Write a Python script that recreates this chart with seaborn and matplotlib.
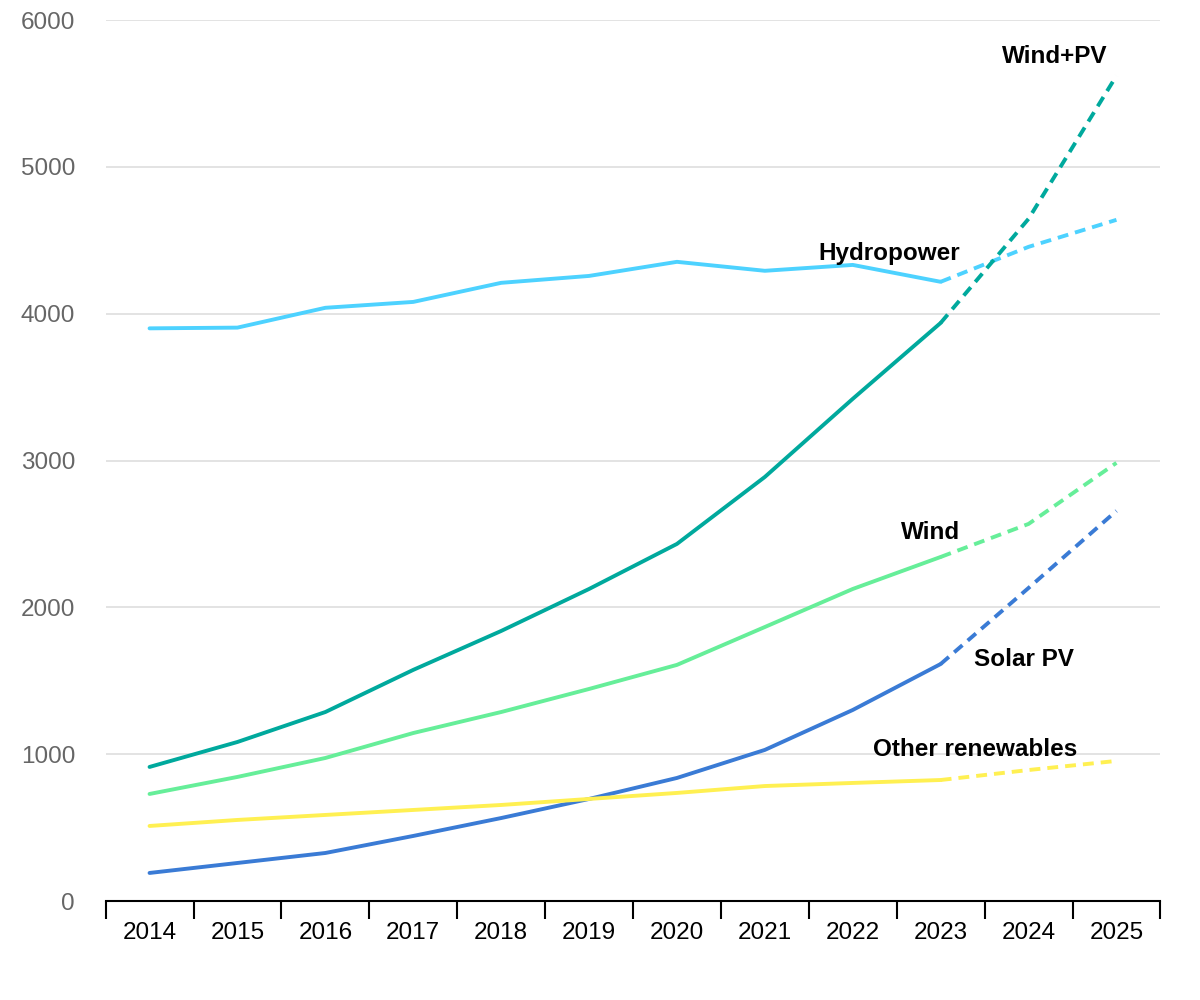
import pandas as pd
import matplotlib.pyplot as plt
import seaborn as sns

years = list(range(2014, 2026))
hydropower = [3900, 3905, 4040, 4080, 4210, 4257, 4353, 4292, 4332, 4217, 4455, 4639]
wind_pv = [913, 1083, 1287, 1574, 1839, 2125, 2432, 2888, 3420, 3937, 4646, 5620]
wind = [729, 845, 974, 1144, 1287, 1444, 1608, 1866, 2125, 2343, 2568, 2984]
solar_pv = [191, 259, 327, 443, 565, 695, 838, 1029, 1301, 1614, 2132, 2657]
other = [511, 552, 586, 620, 654, 695, 736, 783, 804, 824, 892, 954]
last_actual = 2023

series = {
    "Hydropower": hydropower,
    "Wind+PV": wind_pv,
    "Wind": wind,
    "Solar PV": solar_pv,
    "Other renewables": other,
}
colors = {
    "Hydropower": "#4dd2ff",
    "Wind+PV": "#00a99d",
    "Wind": "#66ee99",
    "Solar PV": "#3a7bd5",
    "Other renewables": "#fff052",
}
# label positions (x in year units, y in data units)
label_pos = {
    "Wind+PV": (2024.3, 5750),
    "Hydropower": (2022.42, 4407),
    "Wind": (2022.89, 2507),
    "Solar PV": (2023.95, 1642),
    "Other renewables": (2023.39, 1035),
}

df = pd.DataFrame({"year": years, **series}).melt(id_vars="year", var_name="source", value_name="value")

sns.set_style("white")
plt.rcParams["font.family"] = ["Liberation Sans", "DejaVu Sans"]

fig = plt.figure(figsize=(12, 10), dpi=100)
ax = fig.add_axes([0.088, 0.099, 0.879, 0.881])

for name in series:
    d = df[df["source"] == name]
    actual = d[d["year"] <= last_actual]
    fcst = d[d["year"] >= last_actual]
    sns.lineplot(data=actual, x="year", y="value", color=colors[name], lw=2.8, ax=ax)
    sns.lineplot(data=fcst, x="year", y="value", color=colors[name], lw=2.8, ax=ax,
                 linestyle=(0, (2.8, 1.8)))
    tx, ty = label_pos[name]
    ax.text(tx, ty, name, ha="center", va="center", fontsize=17.5, fontweight="bold", color="black")

ax.set_xlim(2013.5, 2025.5)
ax.set_ylim(0, 6000)
ax.set_yticks(range(0, 6001, 1000))
ax.set_yticklabels([str(v) for v in range(0, 6001, 1000)], color="#666666", fontsize=17.5)
ax.yaxis.grid(True, color="#e0e0e0", lw=1.3)
ax.tick_params(axis="y", length=0, pad=22)

ax.set_xticks([y - 0.5 for y in years] + [years[-1] + 0.5])
ax.set_xticklabels([])
ax.set_xticks(years, minor=True)
ax.set_xticklabels([str(y) for y in years], minor=True, fontsize=17.5, color="black")
ax.tick_params(axis="x", which="major", bottom=True, length=13, width=1.5, color="black", direction="out")
ax.tick_params(axis="x", which="minor", bottom=True, length=0, pad=15)

for s in ["top", "right", "left"]:
    ax.spines[s].set_visible(False)
ax.spines["bottom"].set_color("black")
ax.spines["bottom"].set_linewidth(1.5)
ax.set_xlabel("")
ax.set_ylabel("")

fig.savefig("out.png", dpi=100)
